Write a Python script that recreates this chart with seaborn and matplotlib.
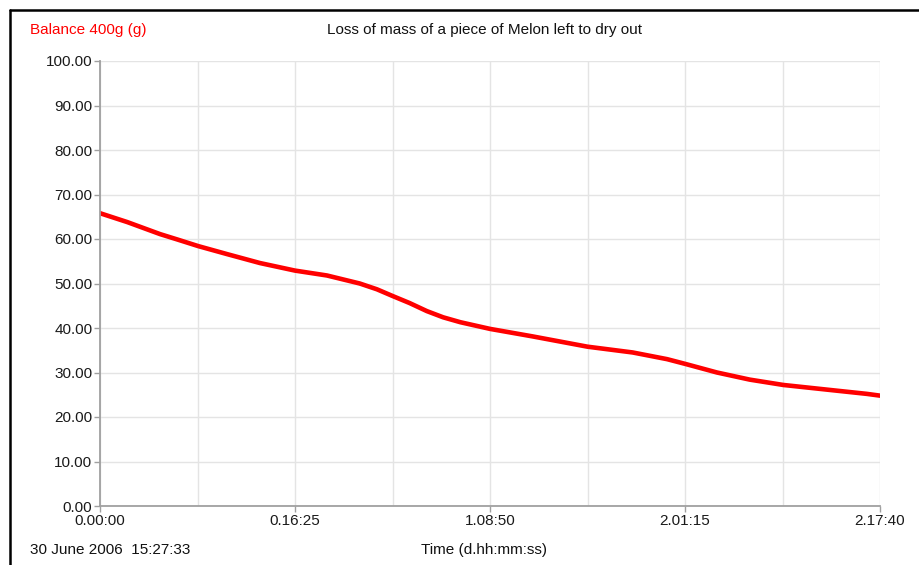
import matplotlib
matplotlib.use("Agg")
import matplotlib.pyplot as plt
import seaborn as sns
import numpy as np
import pandas as pd
from matplotlib.lines import Line2D

# Data (time as fraction of total 2.17:40 run, mass in g)
time_frac = [0.000, 0.035, 0.077, 0.099, 0.126, 0.163, 0.205, 0.250, 0.291,
             0.333, 0.355, 0.375, 0.397, 0.419, 0.440, 0.462, 0.500, 0.555,
             0.625, 0.683, 0.727, 0.751, 0.791, 0.833, 0.876, 0.940, 0.983, 1.000]
mass_g = [65.8, 63.8, 61.1, 59.9, 58.4, 56.6, 54.6, 52.9, 51.8,
          50.0, 48.7, 47.2, 45.6, 43.8, 42.4, 41.3, 39.8, 38.1,
          35.8, 34.5, 33.0, 31.9, 30.0, 28.4, 27.2, 26.0, 25.2, 24.8]
x_tick_pos = [0.0, 0.25, 0.5, 0.75, 1.0]
x_tick_labels = ["0.00:00", "0.16:25", "1.08:50", "2.01:15", "2.17:40"]
y_ticks = [0, 10, 20, 30, 40, 50, 60, 70, 80, 90, 100]

df = pd.DataFrame({"t": time_frac, "m": mass_g})

sns.set_theme(style="white")
plt.rcParams["font.family"] = ["Liberation Sans", "DejaVu Sans"]

W, H = 919, 565
fig = plt.figure(figsize=(W / 100, H / 100), dpi=100)
ax = fig.add_axes([100 / W, (H - 506) / H, 780 / W, 445 / H])

sns.lineplot(data=df, x="t", y="m", ax=ax, color="#ff0000", linewidth=3.3)

ax.set_xlim(0, 1)
ax.set_ylim(0, 100)
ax.set_yticks(y_ticks)
ax.set_yticklabels([f"{v:.2f}" for v in y_ticks])
ax.set_xticks(x_tick_pos)
ax.set_xticklabels(x_tick_labels)
ax.set_xticks(np.arange(0, 1.0001, 0.125), minor=True)
ax.set_xlabel("")
ax.set_ylabel("")

ax.grid(True, which="both", axis="x", color="#e4e4e4", linewidth=1)
ax.grid(True, which="major", axis="y", color="#e4e4e4", linewidth=1)
ax.set_axisbelow(True)

for s in ["top", "right"]:
    ax.spines[s].set_visible(False)
for s in ["left", "bottom"]:
    ax.spines[s].set_color("#a0a0a0")
    ax.spines[s].set_linewidth(1.3)

ax.tick_params(axis="both", which="major", direction="out", length=4, width=1,
               color="#a0a0a0", labelsize=11, labelcolor="#1a1a1a", pad=1.5)
ax.tick_params(axis="x", which="minor", length=0)
ax.tick_params(left=True, bottom=True)

# Header / footer text
fig.text(30 / W, 1 - 30 / H, "Balance 400g (g)", color="#ff0000", fontsize=11,
         ha="left", va="center")
fig.text(484 / W, 1 - 30 / H, "Loss of mass of a piece of Melon left to dry out",
         color="#111111", fontsize=11, ha="center", va="center")
fig.text(30 / W, 1 - 550 / H, "30 June 2006  15:27:33", color="#111111",
         fontsize=11, ha="left", va="center")
fig.text(484 / W, 1 - 550 / H, "Time (d.hh:mm:ss)", color="#111111",
         fontsize=11, ha="center", va="center")

# Frame lines (top and left)
fig.add_artist(Line2D([9.5 / W, 1], [1 - 9.5 / H, 1 - 9.5 / H], color="black",
                      linewidth=1.8, transform=fig.transFigure))
fig.add_artist(Line2D([9.5 / W, 9.5 / W], [0, 1 - 9.5 / H], color="black",
                      linewidth=1.8, transform=fig.transFigure))

fig.savefig("out.png", dpi=100)
